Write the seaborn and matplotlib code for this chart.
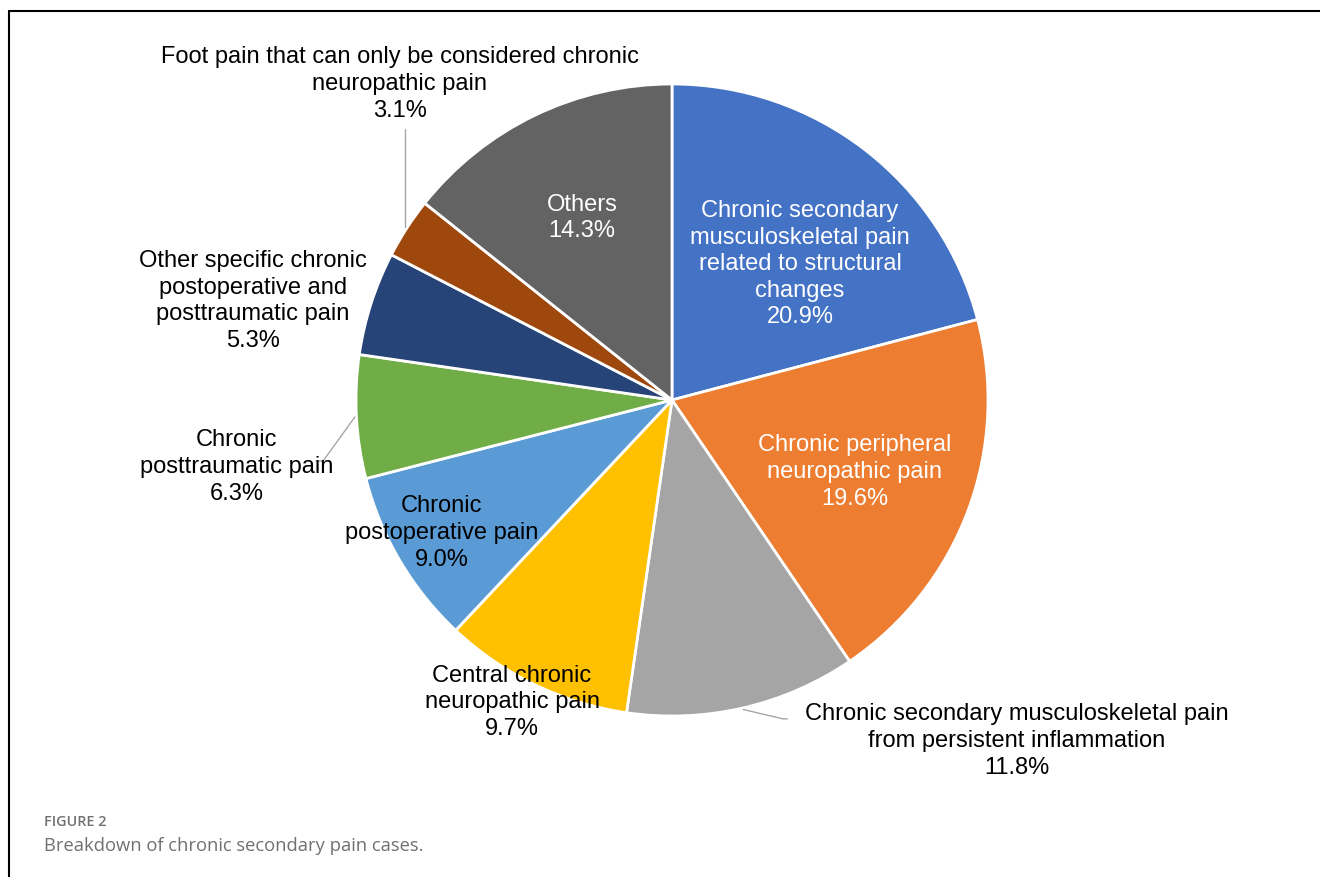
import numpy as np
import matplotlib
matplotlib.use("Agg")
import matplotlib.pyplot as plt
import seaborn as sns
from matplotlib.lines import Line2D

sns.set_theme(style="white")
plt.rcParams['font.family'] = ['Liberation Sans', 'DejaVu Sans']

# ---- data ----
categories = [
    "Chronic secondary\nmusculoskeletal pain\nrelated to structural\nchanges",
    "Chronic peripheral\nneuropathic pain",
    "Chronic secondary musculoskeletal pain\nfrom persistent inflammation",
    "Central chronic\nneuropathic pain",
    "Chronic\npostoperative pain",
    "Chronic\nposttraumatic pain",
    "Other specific chronic\npostoperative and\nposttraumatic pain",
    "Foot pain that can only be considered chronic\nneuropathic pain",
    "Others",
]
values = [20.9, 19.6, 11.8, 9.7, 9.0, 6.3, 5.3, 3.1, 14.3]
colors = ["#4472C4", "#ED7D31", "#A5A5A5", "#FFC000", "#5B9BD5",
          "#70AD47", "#264478", "#9E480E", "#636363"]

# ---- layout (label positions in pie-radius units) ----
label_pos = [(0.405, 0.430), (0.579, -0.228), (1.092, -1.079), (-0.506, -0.956),
             (-0.728, -0.421), (-1.377, -0.212), (-1.326, 0.313), (-0.861, 1.0),
             (-0.285, 0.576)]
label_col = ["white", "white", "black", "black", "black", "black", "black", "black", "white"]
# leader lines: index -> list of elbow points after the wedge edge point
leaders = {2: [(0.351, -1.009), (0.365, -1.009)],
           5: [(-1.104, -0.193), (-1.127, -0.193)],
           7: [(None, 0.858)]}

fig = plt.figure(figsize=(13.2, 8.77), dpi=100)
ax = fig.add_axes([0, 0, 1, 1])
wedges, _ = ax.pie(values, colors=colors, startangle=90, counterclock=False,
                   radius=1.0, wedgeprops=dict(edgecolor="white", linewidth=2))

px = 316.0
cx, cy = 672.0, 400.0
ax.set_xlim(-cx / px, (1320 - cx) / px)
ax.set_ylim(-(877 - cy) / px, cy / px)
ax.set_aspect("auto")
ax.axis("off")

for i, (cat, v) in enumerate(zip(categories, values)):
    x, y = label_pos[i]
    ax.text(x, y, f"{cat}\n{v:.1f}%", ha="center", va="center", fontsize=17,
            color=label_col[i], linespacing=1.27)

# leader lines from wedge mid-angle edge
total = sum(values)
cum = np.cumsum([0] + values[:-1])
for i, pts in leaders.items():
    frac = (cum[i] + values[i] / 2) / total
    ang = np.deg2rad(90 - 360 * frac)
    x0, y0 = 1.005 * np.cos(ang), 1.005 * np.sin(ang)
    xs, ys = [x0], [y0]
    for (x, y) in pts:
        xs.append(x0 if x is None else x)
        ys.append(y)
    ax.plot(xs, ys, color="#A6A6A6", lw=1.0)

# frame
fig.add_artist(Line2D([9 / 1320, 1], [1 - 11 / 877, 1 - 11 / 877], transform=fig.transFigure,
                      color="black", lw=1.5))
fig.add_artist(Line2D([9 / 1320, 9 / 1320], [0, 1 - 11 / 877], transform=fig.transFigure,
                      color="black", lw=1.5))

# caption
fig.text(44 / 1320, 1 - 822 / 877, "FIGURE 2", fontsize=10.4, color="#707070",
         fontweight="semibold", family=["Open Sans", "DejaVu Sans"], va="center", ha="left")
fig.text(44 / 1320, 1 - 846 / 877, "Breakdown of chronic secondary pain cases.", fontsize=13.2,
         color="#707070", family=["Open Sans", "DejaVu Sans"], va="center", ha="left")

fig.savefig("out.png", dpi=100, facecolor="white")
